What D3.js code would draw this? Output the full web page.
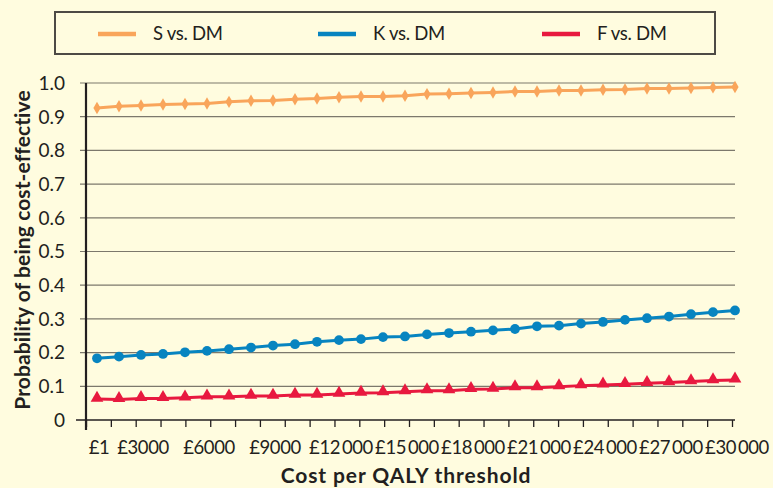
<!DOCTYPE html>
<html>
<head>
<meta charset="utf-8">
<script src="https://cdnjs.cloudflare.com/ajax/libs/d3/7.8.5/d3.min.js"></script>
<style>
  html, body { margin: 0; padding: 0; background: #fffcdf; }
  svg { display: block; font-family: Lato, "Open Sans", sans-serif; }
</style>
</head>
<body>
<div id="chart"></div>
<script>
// cost per QALY thresholds (one point each)
var thresholds = [1, 2000, 3000, 4000, 5000, 6000, 7000, 8000, 9000, 10000,
    11000, 12000, 13000, 14000, 15000, 16000, 17000, 18000, 19000, 20000,
    21000, 22000, 23000, 24000, 25000, 26000, 27000, 28000, 29000, 30000];

var sVsDM = [0.926, 0.931, 0.933, 0.936, 0.938, 0.939, 0.944, 0.947, 0.948, 0.952,
    0.954, 0.958, 0.960, 0.960, 0.962, 0.967, 0.968, 0.970, 0.972, 0.975,
    0.975, 0.978, 0.978, 0.980, 0.981, 0.984, 0.984, 0.985, 0.987, 0.988];

var kVsDM = [0.183, 0.188, 0.193, 0.196, 0.201, 0.205, 0.210, 0.215, 0.221, 0.225,
    0.232, 0.237, 0.240, 0.246, 0.248, 0.254, 0.258, 0.262, 0.266, 0.270,
    0.278, 0.280, 0.286, 0.291, 0.297, 0.302, 0.307, 0.314, 0.320, 0.325];

var fVsDM = [0.062, 0.061, 0.064, 0.064, 0.066, 0.069, 0.069, 0.071, 0.071, 0.074,
    0.074, 0.077, 0.080, 0.081, 0.084, 0.087, 0.087, 0.091, 0.092, 0.096,
    0.096, 0.099, 0.102, 0.104, 0.106, 0.109, 0.111, 0.114, 0.117, 0.119];

var seriesNames = ["S vs. DM", "K vs. DM", "F vs. DM"];
var seriesColors = ["#f9a55b", "#0784c0", "#e8193f"];
var seriesMarkers = [d3.symbolDiamond, d3.symbolCircle, d3.symbolTriangle];

var yTicks = [0, 0.1, 0.2, 0.3, 0.4, 0.5, 0.6, 0.7, 0.8, 0.9, 1.0];
var xTickCount = 26;

var width = 773, height = 488;
var margin = {top: 83, right: 38, bottom: 68, left: 86};
var plotW = width - margin.left - margin.right,
    plotH = height - margin.top - margin.bottom;

var svg = d3.select("#chart").append("svg")
    .attr("width", width)
    .attr("height", height);

svg.append("rect")
    .attr("width", width).attr("height", height)
    .attr("fill", "#fffcdf");

var g = svg.append("g")
    .attr("transform", "translate(" + margin.left + "," + margin.top + ")");

var x = d3.scalePoint()
    .domain(thresholds)
    .range([11, plotW]);

var xTick = d3.scaleLinear()
    .domain([0, xTickCount])
    .range([0, plotW - 3]);

var y = d3.scaleLinear()
    .domain([0, 1])
    .range([plotH, 0]);

// gridlines
g.selectAll(".grid")
    .data(yTicks.filter(function(d) { return d > 0; }))
    .enter().append("line")
    .attr("class", "grid")
    .attr("x1", -6).attr("x2", plotW)
    .attr("y1", function(d) { return y(d); })
    .attr("y2", function(d) { return y(d); })
    .attr("stroke", "#7c786c")
    .attr("stroke-width", 1.2);

// y tick labels
g.selectAll(".ylab")
    .data(yTicks)
    .enter().append("text")
    .attr("class", "ylab")
    .attr("x", -21)
    .attr("y", function(d) { return y(d); })
    .attr("dy", "0.36em")
    .attr("text-anchor", "end")
    .attr("font-size", 19)
    .attr("fill", "#231f20")
    .text(function(d) { return d === 0 ? "0" : d.toFixed(1); });

// x axis ticks
var xAxis = g.append("g")
    .attr("transform", "translate(0," + plotH + ")")
    .call(d3.axisBottom(xTick).tickValues(d3.range(xTickCount + 1)).tickSize(7).tickFormat(""));
xAxis.select(".domain").remove();
xAxis.selectAll(".tick line").attr("stroke", "#231f20").attr("stroke-width", 1.3);

g.append("line")
    .attr("x1", -10).attr("x2", plotW)
    .attr("y1", plotH).attr("y2", plotH)
    .attr("stroke", "#231f20").attr("stroke-width", 1.6);

g.append("line")
    .attr("x1", 0).attr("x2", 0)
    .attr("y1", 0).attr("y2", plotH + 10)
    .attr("stroke", "#231f20").attr("stroke-width", 2.2);

// x tick labels: £1 and every £3000
function fmt(v) {
    var s = String(v);
    if (s.length > 4) s = s.slice(0, s.length - 3) + "\u2009" + s.slice(-3);
    return "£" + s;
}
g.selectAll(".xlab")
    .data(thresholds.filter(function(d) { return d === 1 || d % 3000 === 0; }))
    .enter().append("text")
    .attr("class", "xlab")
    .attr("x", function(d) { return x(d) + 2; })
    .attr("y", plotH + 34)
    .attr("text-anchor", "middle")
    .attr("font-size", 18.5)
    .attr("letter-spacing", -0.4)
    .attr("fill", "#231f20")
    .text(fmt);

// series
var allSeries = [sVsDM, kVsDM, fVsDM];
var line = d3.line()
    .x(function(d, i) { return x(thresholds[i]); })
    .y(function(d) { return y(d); });

allSeries.forEach(function(vals, si) {
    g.append("path")
        .datum(vals)
        .attr("fill", "none")
        .attr("stroke", seriesColors[si])
        .attr("stroke-width", 3)
        .attr("d", line);

    var sym = d3.symbol().type(seriesMarkers[si])
        .size(si === 0 ? 45 : si === 1 ? 75 : 70);
    g.selectAll(".m" + si)
        .data(vals)
        .enter().append("path")
        .attr("class", "m" + si)
        .attr("transform", function(d, i) {
            return "translate(" + x(thresholds[i]) + "," + (y(d) + (si === 2 ? -1 : 0)) + ")";
        })
        .attr("d", sym)
        .attr("fill", seriesColors[si]);
});

// axis titles
svg.append("text")
    .attr("transform", "translate(30,250) rotate(-90)")
    .attr("text-anchor", "middle")
    .attr("font-size", 21)
    .attr("font-weight", "bold")
    .attr("letter-spacing", 0.1)
    .attr("fill", "#231f20")
    .text("Probability of being cost-effective");

svg.append("text")
    .attr("x", 406)
    .attr("y", 483)
    .attr("text-anchor", "middle")
    .attr("font-size", 21)
    .attr("font-weight", "bold")
    .attr("letter-spacing", 0.9)
    .attr("fill", "#231f20")
    .text("Cost per QALY threshold");

// legend
var legend = svg.append("g");
legend.append("rect")
    .attr("x", 55).attr("y", 12)
    .attr("width", 660).attr("height", 42)
    .attr("fill", "none")
    .attr("stroke", "#4d4a45")
    .attr("stroke-width", 2);

var legendX = [98, 318, 542];
seriesNames.forEach(function(name, i) {
    legend.append("line")
        .attr("x1", legendX[i]).attr("x2", legendX[i] + 38)
        .attr("y1", 34).attr("y2", 34)
        .attr("stroke", seriesColors[i])
        .attr("stroke-width", 4.5);
    legend.append("text")
        .attr("x", legendX[i] + 55)
        .attr("y", 40)
        .attr("font-size", 18.5)
        .attr("letter-spacing", -0.3)
        .attr("fill", "#231f20")
        .text(name);
});
</script>
</body>
</html>
